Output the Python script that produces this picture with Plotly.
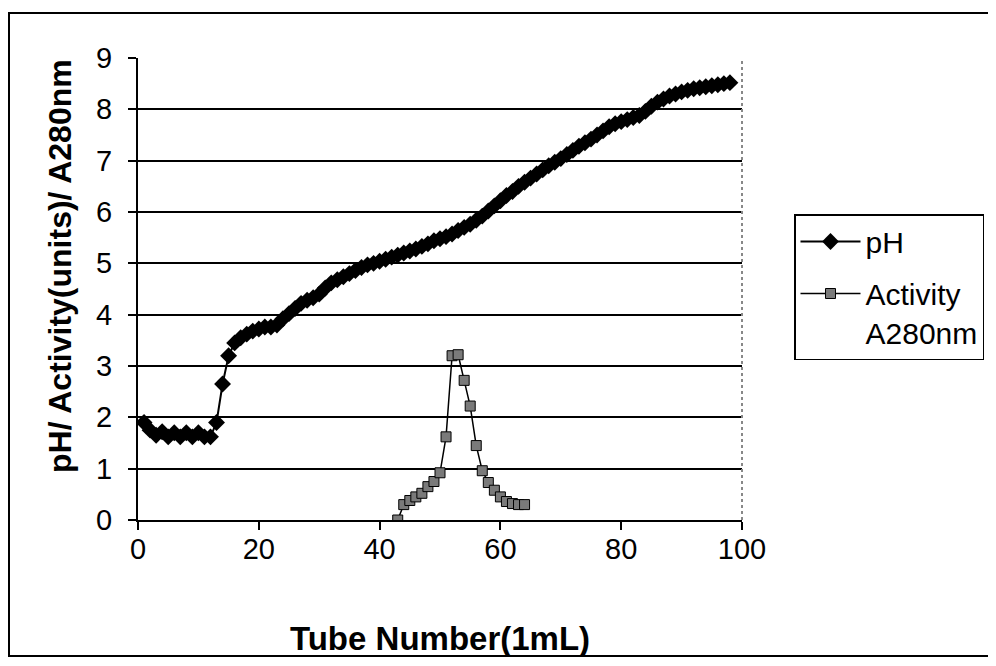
import plotly.graph_objects as go

# ---- data ----
tube_ph = list(range(1, 99))
ph = [1.90, 1.75, 1.65, 1.72, 1.62, 1.70, 1.62, 1.70, 1.62, 1.70,
      1.62, 1.62, 1.90, 2.65, 3.20, 3.45, 3.55, 3.62, 3.68, 3.72,
      3.76, 3.76, 3.80, 3.92, 4.02, 4.12, 4.22, 4.28, 4.33, 4.40,
      4.52, 4.62, 4.68, 4.74, 4.80, 4.86, 4.92, 4.97, 5.00, 5.04,
      5.08, 5.12, 5.16, 5.20, 5.24, 5.28, 5.33, 5.38, 5.44, 5.48,
      5.52, 5.57, 5.64, 5.70, 5.76, 5.84, 5.92, 6.02, 6.12, 6.22,
      6.32, 6.40, 6.50, 6.58, 6.66, 6.74, 6.82, 6.90, 6.97, 7.04,
      7.12, 7.20, 7.28, 7.35, 7.42, 7.50, 7.58, 7.66, 7.72, 7.76,
      7.80, 7.84, 7.88, 7.96, 8.06, 8.14, 8.20, 8.26, 8.30, 8.34,
      8.37, 8.40, 8.42, 8.44, 8.46, 8.48, 8.50, 8.52]

tube_act = list(range(43, 65))
activity = [0.00, 0.30, 0.38, 0.45, 0.52, 0.65, 0.75, 0.92, 1.62, 3.20,
            3.22, 2.72, 2.22, 1.45, 0.96, 0.73, 0.58, 0.45, 0.36, 0.32,
            0.30, 0.30]

x_ticks = [0, 20, 40, 60, 80, 100]
y_ticks = list(range(0, 10))
x_title = "Tube Number(1mL)"
y_title = "pH/ Activity(units)/ A280nm"
names = ["pH", "Activity<br>A280nm"]

# ---- layout geometry (pixels, in screenshot coordinates) ----
OFF = 8                      # page body margin
W, H = 996 - OFF, 666 - OFF
L, R, T, B = 138, 742, 58, 520
FONT = "Arial, Liberation Sans, sans-serif"


def px(xp):
    return (xp - L) / (R - L)


def py(yp):
    return (B - yp) / (B - T)


fig = go.Figure()
fig.add_trace(go.Scatter(
    x=tube_ph, y=ph, name=names[0], mode="lines+markers",
    line=dict(color="black", width=2),
    marker=dict(symbol="diamond", size=13, color="black"),
    legendgroup="a",
))
fig.add_trace(go.Scatter(
    x=tube_act, y=activity, name=names[1], mode="lines+markers",
    line=dict(color="black", width=1.5),
    marker=dict(symbol="square", size=10, color="#7a7a7a",
                line=dict(color="black", width=1)),
    legendgroup="b",
))

fig.update_layout(
    width=W, height=H,
    margin=dict(l=L - OFF, r=(W + OFF) - R, t=T - OFF, b=(H + OFF) - B),
    paper_bgcolor="white", plot_bgcolor="white",
    font=dict(family=FONT, color="black"),
    showlegend=True,
    legend=dict(
        x=px(794), y=py(214), xanchor="left", yanchor="top",
        bordercolor="black", borderwidth=1.5, bgcolor="white",
        font=dict(size=30, family=FONT, color="black"),
        valign="top", itemwidth=60, tracegroupgap=10,
        entrywidth=132,
    ),
    xaxis=dict(
        range=[0, 100], tickvals=x_ticks, ticktext=[str(v) for v in x_ticks],
        showgrid=False, zeroline=False,
        showline=True, linecolor="black", linewidth=2,
        ticks="outside", ticklen=8, tickwidth=2, tickcolor="black",
        tickfont=dict(size=29, family=FONT), fixedrange=True,
        ticklabelstandoff=-6,
    ),
    yaxis=dict(
        range=[0, 9], tickvals=y_ticks, ticktext=[str(v) for v in y_ticks],
        showgrid=True, gridcolor="black", gridwidth=1.5, zeroline=False,
        showline=True, linecolor="black", linewidth=2,
        ticks="outside", ticklen=8, tickwidth=2, tickcolor="black",
        tickfont=dict(size=29, family=FONT), fixedrange=True,
        ticklabelstandoff=10,
    ),
    annotations=[
        dict(text="<b>%s</b>" % x_title, xref="paper", yref="paper",
             x=px(440), y=py(638), xanchor="center", yanchor="middle",
             showarrow=False, font=dict(size=33, family=FONT)),
        dict(text="<b>%s</b>" % y_title, xref="paper", yref="paper",
             x=px(60), y=py(266), xanchor="center", yanchor="middle",
             textangle=-90, showarrow=False, font=dict(size=32, family=FONT)),
    ],
    shapes=[
        dict(type="rect", xref="paper", yref="paper",
             x0=px(9), x1=px(989), y0=py(656), y1=py(13),
             line=dict(color="black", width=2), layer="below"),
        dict(type="line", xref="paper", yref="paper",
             x0=1, x1=1, y0=0, y1=1,
             line=dict(color="#888888", width=2, dash="dot")),
    ],
)

fig.write_html("out.html")
